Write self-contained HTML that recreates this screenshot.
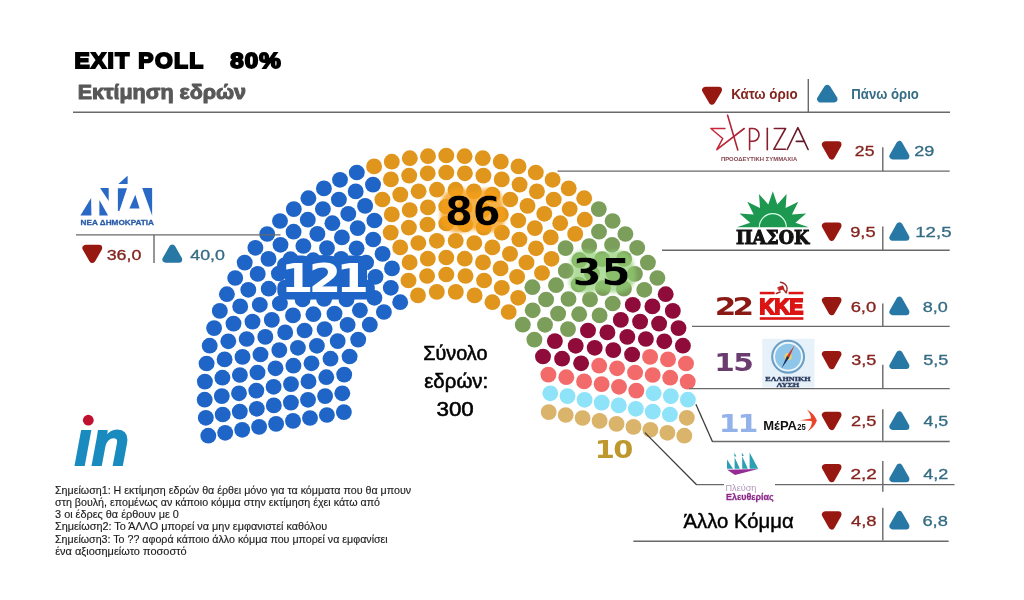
<!DOCTYPE html>
<html lang="el"><head><meta charset="utf-8"><title>Exit poll</title>
<style>html,body{margin:0;padding:0;background:#fff}svg{display:block}</style></head>
<body>
<svg width="1024" height="600" viewBox="0 0 1024 600">
<rect width="1024" height="600" fill="#fff"/>
<g fill="#1f65c8"><ellipse cx="208.3" cy="435.7" rx="7.95" ry="7.85"/><ellipse cx="225.2" cy="432.8" rx="7.95" ry="7.85"/><ellipse cx="242.2" cy="429.8" rx="7.95" ry="7.85"/><ellipse cx="259.1" cy="426.9" rx="7.95" ry="7.85"/><ellipse cx="276.1" cy="423.9" rx="7.95" ry="7.85"/><ellipse cx="293.0" cy="420.9" rx="7.95" ry="7.85"/><ellipse cx="310.0" cy="418.0" rx="7.95" ry="7.85"/><ellipse cx="326.9" cy="415.0" rx="7.95" ry="7.85"/><ellipse cx="343.9" cy="412.1" rx="7.95" ry="7.85"/><ellipse cx="205.8" cy="417.8" rx="7.95" ry="7.85"/><ellipse cx="222.7" cy="414.5" rx="7.95" ry="7.85"/><ellipse cx="239.8" cy="411.6" rx="7.95" ry="7.85"/><ellipse cx="256.8" cy="408.8" rx="7.95" ry="7.85"/><ellipse cx="273.8" cy="405.4" rx="7.95" ry="7.85"/><ellipse cx="290.9" cy="402.6" rx="7.95" ry="7.85"/><ellipse cx="308.0" cy="399.8" rx="7.95" ry="7.85"/><ellipse cx="204.7" cy="399.7" rx="7.95" ry="7.85"/><ellipse cx="325.1" cy="396.1" rx="7.95" ry="7.85"/><ellipse cx="221.8" cy="396.1" rx="7.95" ry="7.85"/><ellipse cx="239.0" cy="393.3" rx="7.95" ry="7.85"/><ellipse cx="342.3" cy="393.3" rx="7.95" ry="7.85"/><ellipse cx="256.3" cy="390.6" rx="7.95" ry="7.85"/><ellipse cx="273.6" cy="386.8" rx="7.95" ry="7.85"/><ellipse cx="204.9" cy="381.6" rx="7.95" ry="7.85"/><ellipse cx="291.0" cy="384.1" rx="7.95" ry="7.85"/><ellipse cx="222.4" cy="377.7" rx="7.95" ry="7.85"/><ellipse cx="239.9" cy="375.0" rx="7.95" ry="7.85"/><ellipse cx="308.5" cy="381.4" rx="7.95" ry="7.85"/><ellipse cx="257.5" cy="372.5" rx="7.95" ry="7.85"/><ellipse cx="206.6" cy="363.5" rx="7.95" ry="7.85"/><ellipse cx="326.3" cy="377.2" rx="7.95" ry="7.85"/><ellipse cx="275.5" cy="368.3" rx="7.95" ry="7.85"/><ellipse cx="224.6" cy="359.4" rx="7.95" ry="7.85"/><ellipse cx="242.5" cy="356.9" rx="7.95" ry="7.85"/><ellipse cx="293.4" cy="365.7" rx="7.95" ry="7.85"/><ellipse cx="344.2" cy="374.6" rx="7.95" ry="7.85"/><ellipse cx="209.7" cy="345.7" rx="7.95" ry="7.85"/><ellipse cx="260.5" cy="354.5" rx="7.95" ry="7.85"/><ellipse cx="311.5" cy="363.3" rx="7.95" ry="7.85"/><ellipse cx="228.3" cy="341.3" rx="7.95" ry="7.85"/><ellipse cx="279.3" cy="350.1" rx="7.95" ry="7.85"/><ellipse cx="246.7" cy="339.0" rx="7.95" ry="7.85"/><ellipse cx="214.1" cy="328.1" rx="7.95" ry="7.85"/><ellipse cx="330.5" cy="358.7" rx="7.95" ry="7.85"/><ellipse cx="297.9" cy="347.8" rx="7.95" ry="7.85"/><ellipse cx="265.3" cy="336.9" rx="7.95" ry="7.85"/><ellipse cx="233.5" cy="323.6" rx="7.95" ry="7.85"/><ellipse cx="219.8" cy="310.9" rx="7.95" ry="7.85"/><ellipse cx="252.5" cy="321.6" rx="7.95" ry="7.85"/><ellipse cx="316.9" cy="345.8" rx="7.95" ry="7.85"/><ellipse cx="285.2" cy="332.4" rx="7.95" ry="7.85"/><ellipse cx="349.6" cy="356.5" rx="7.95" ry="7.85"/><ellipse cx="240.2" cy="306.4" rx="7.95" ry="7.85"/><ellipse cx="271.8" cy="319.9" rx="7.95" ry="7.85"/><ellipse cx="304.6" cy="330.5" rx="7.95" ry="7.85"/><ellipse cx="226.9" cy="294.2" rx="7.95" ry="7.85"/><ellipse cx="259.8" cy="304.8" rx="7.95" ry="7.85"/><ellipse cx="337.7" cy="341.1" rx="7.95" ry="7.85"/><ellipse cx="293.0" cy="315.4" rx="7.95" ry="7.85"/><ellipse cx="248.3" cy="289.8" rx="7.95" ry="7.85"/><ellipse cx="324.6" cy="329.1" rx="7.95" ry="7.85"/><ellipse cx="279.9" cy="303.5" rx="7.95" ry="7.85"/><ellipse cx="235.2" cy="278.0" rx="7.95" ry="7.85"/><ellipse cx="268.7" cy="288.7" rx="7.95" ry="7.85"/><ellipse cx="313.4" cy="314.2" rx="7.95" ry="7.85"/><ellipse cx="358.2" cy="339.6" rx="7.95" ry="7.85"/><ellipse cx="257.7" cy="273.9" rx="7.95" ry="7.85"/><ellipse cx="244.7" cy="262.6" rx="7.95" ry="7.85"/><ellipse cx="302.6" cy="299.4" rx="7.95" ry="7.85"/><ellipse cx="289.6" cy="288.1" rx="7.95" ry="7.85"/><ellipse cx="347.6" cy="324.8" rx="7.95" ry="7.85"/><ellipse cx="278.9" cy="273.5" rx="7.95" ry="7.85"/><ellipse cx="334.5" cy="313.6" rx="7.95" ry="7.85"/><ellipse cx="268.5" cy="258.9" rx="7.95" ry="7.85"/><ellipse cx="255.4" cy="247.8" rx="7.95" ry="7.85"/><ellipse cx="324.1" cy="299.0" rx="7.95" ry="7.85"/><ellipse cx="300.7" cy="273.6" rx="7.95" ry="7.85"/><ellipse cx="313.9" cy="284.5" rx="7.95" ry="7.85"/><ellipse cx="290.5" cy="259.2" rx="7.95" ry="7.85"/><ellipse cx="267.2" cy="234.0" rx="7.95" ry="7.85"/><ellipse cx="280.5" cy="244.8" rx="7.95" ry="7.85"/><ellipse cx="369.8" cy="324.7" rx="7.95" ry="7.85"/><ellipse cx="346.5" cy="299.5" rx="7.95" ry="7.85"/><ellipse cx="359.9" cy="310.3" rx="7.95" ry="7.85"/><ellipse cx="336.6" cy="285.2" rx="7.95" ry="7.85"/><ellipse cx="313.2" cy="260.2" rx="7.95" ry="7.85"/><ellipse cx="326.8" cy="270.9" rx="7.95" ry="7.85"/><ellipse cx="303.4" cy="246.0" rx="7.95" ry="7.85"/><ellipse cx="280.0" cy="221.0" rx="7.95" ry="7.85"/><ellipse cx="293.6" cy="231.7" rx="7.95" ry="7.85"/><ellipse cx="293.8" cy="209.1" rx="7.95" ry="7.85"/><ellipse cx="327.0" cy="248.1" rx="7.95" ry="7.85"/><ellipse cx="317.4" cy="233.9" rx="7.95" ry="7.85"/><ellipse cx="360.2" cy="287.2" rx="7.95" ry="7.85"/><ellipse cx="307.8" cy="219.7" rx="7.95" ry="7.85"/><ellipse cx="350.6" cy="273.0" rx="7.95" ry="7.85"/><ellipse cx="341.1" cy="258.8" rx="7.95" ry="7.85"/><ellipse cx="383.9" cy="312.0" rx="7.95" ry="7.85"/><ellipse cx="374.4" cy="297.8" rx="7.95" ry="7.85"/><ellipse cx="308.4" cy="198.2" rx="7.95" ry="7.85"/><ellipse cx="322.9" cy="209.0" rx="7.95" ry="7.85"/><ellipse cx="332.4" cy="223.2" rx="7.95" ry="7.85"/><ellipse cx="341.9" cy="237.4" rx="7.95" ry="7.85"/><ellipse cx="356.6" cy="248.3" rx="7.95" ry="7.85"/><ellipse cx="366.1" cy="262.5" rx="7.95" ry="7.85"/><ellipse cx="375.5" cy="276.8" rx="7.95" ry="7.85"/><ellipse cx="323.9" cy="188.4" rx="7.95" ry="7.85"/><ellipse cx="338.9" cy="199.5" rx="7.95" ry="7.85"/><ellipse cx="348.3" cy="213.8" rx="7.95" ry="7.85"/><ellipse cx="357.7" cy="228.1" rx="7.95" ry="7.85"/><ellipse cx="390.8" cy="287.8" rx="7.95" ry="7.85"/><ellipse cx="400.2" cy="302.2" rx="7.95" ry="7.85"/><ellipse cx="340.0" cy="179.8" rx="7.95" ry="7.85"/><ellipse cx="373.2" cy="239.5" rx="7.95" ry="7.85"/><ellipse cx="382.6" cy="253.9" rx="7.95" ry="7.85"/><ellipse cx="355.7" cy="191.4" rx="7.95" ry="7.85"/><ellipse cx="365.1" cy="205.9" rx="7.95" ry="7.85"/><ellipse cx="392.0" cy="268.4" rx="7.95" ry="7.85"/><ellipse cx="374.4" cy="220.5" rx="7.95" ry="7.85"/><ellipse cx="356.8" cy="172.5" rx="7.95" ry="7.85"/><ellipse cx="373.0" cy="184.6" rx="7.95" ry="7.85"/></g>
<g fill="#e0951c"><ellipse cx="390.7" cy="232.6" rx="7.95" ry="7.85"/><ellipse cx="408.5" cy="280.5" rx="7.95" ry="7.85"/><ellipse cx="382.4" cy="199.5" rx="7.95" ry="7.85"/><ellipse cx="374.1" cy="166.4" rx="7.95" ry="7.85"/><ellipse cx="400.2" cy="247.4" rx="7.95" ry="7.85"/><ellipse cx="391.8" cy="214.4" rx="7.95" ry="7.85"/><ellipse cx="418.0" cy="295.4" rx="7.95" ry="7.85"/><ellipse cx="409.6" cy="262.4" rx="7.95" ry="7.85"/><ellipse cx="390.9" cy="179.4" rx="7.95" ry="7.85"/><ellipse cx="391.8" cy="161.7" rx="7.95" ry="7.85"/><ellipse cx="400.3" cy="194.6" rx="7.95" ry="7.85"/><ellipse cx="408.9" cy="227.6" rx="7.95" ry="7.85"/><ellipse cx="409.7" cy="210.0" rx="7.95" ry="7.85"/><ellipse cx="418.3" cy="243.0" rx="7.95" ry="7.85"/><ellipse cx="409.2" cy="175.6" rx="7.95" ry="7.85"/><ellipse cx="427.1" cy="276.0" rx="7.95" ry="7.85"/><ellipse cx="409.8" cy="158.2" rx="7.95" ry="7.85"/><ellipse cx="418.6" cy="191.3" rx="7.95" ry="7.85"/><ellipse cx="427.8" cy="258.7" rx="7.95" ry="7.85"/><ellipse cx="427.5" cy="224.5" rx="7.95" ry="7.85"/><ellipse cx="427.9" cy="207.4" rx="7.95" ry="7.85"/><ellipse cx="436.8" cy="291.9" rx="7.95" ry="7.85"/><ellipse cx="427.7" cy="173.3" rx="7.95" ry="7.85"/><ellipse cx="428.0" cy="156.2" rx="7.95" ry="7.85"/><ellipse cx="436.9" cy="240.8" rx="7.95" ry="7.85"/><ellipse cx="437.0" cy="189.7" rx="7.95" ry="7.85"/><ellipse cx="446.3" cy="155.5" rx="7.95" ry="7.85"/><ellipse cx="446.3" cy="172.5" rx="7.95" ry="7.85"/><ellipse cx="446.3" cy="206.5" rx="7.95" ry="7.85"/><ellipse cx="446.3" cy="223.5" rx="7.95" ry="7.85"/><ellipse cx="446.3" cy="257.5" rx="7.95" ry="7.85"/><ellipse cx="446.3" cy="274.5" rx="7.95" ry="7.85"/><ellipse cx="455.6" cy="189.7" rx="7.95" ry="7.85"/><ellipse cx="455.7" cy="240.8" rx="7.95" ry="7.85"/><ellipse cx="464.6" cy="156.2" rx="7.95" ry="7.85"/><ellipse cx="464.9" cy="173.3" rx="7.95" ry="7.85"/><ellipse cx="455.8" cy="291.9" rx="7.95" ry="7.85"/><ellipse cx="464.7" cy="207.4" rx="7.95" ry="7.85"/><ellipse cx="465.1" cy="224.5" rx="7.95" ry="7.85"/><ellipse cx="474.0" cy="191.3" rx="7.95" ry="7.85"/><ellipse cx="464.8" cy="258.7" rx="7.95" ry="7.85"/><ellipse cx="482.8" cy="158.2" rx="7.95" ry="7.85"/><ellipse cx="465.5" cy="276.0" rx="7.95" ry="7.85"/><ellipse cx="483.4" cy="175.6" rx="7.95" ry="7.85"/><ellipse cx="474.3" cy="243.0" rx="7.95" ry="7.85"/><ellipse cx="482.9" cy="210.0" rx="7.95" ry="7.85"/><ellipse cx="483.7" cy="227.6" rx="7.95" ry="7.85"/><ellipse cx="492.3" cy="194.6" rx="7.95" ry="7.85"/><ellipse cx="500.8" cy="161.7" rx="7.95" ry="7.85"/><ellipse cx="501.7" cy="179.4" rx="7.95" ry="7.85"/><ellipse cx="483.0" cy="262.4" rx="7.95" ry="7.85"/><ellipse cx="474.6" cy="295.4" rx="7.95" ry="7.85"/><ellipse cx="500.8" cy="214.4" rx="7.95" ry="7.85"/><ellipse cx="492.4" cy="247.4" rx="7.95" ry="7.85"/><ellipse cx="518.5" cy="166.4" rx="7.95" ry="7.85"/><ellipse cx="510.2" cy="199.5" rx="7.95" ry="7.85"/><ellipse cx="484.1" cy="280.5" rx="7.95" ry="7.85"/><ellipse cx="501.9" cy="232.6" rx="7.95" ry="7.85"/><ellipse cx="519.6" cy="184.6" rx="7.95" ry="7.85"/><ellipse cx="535.8" cy="172.5" rx="7.95" ry="7.85"/><ellipse cx="518.2" cy="220.5" rx="7.95" ry="7.85"/><ellipse cx="527.5" cy="205.9" rx="7.95" ry="7.85"/><ellipse cx="500.6" cy="268.4" rx="7.95" ry="7.85"/><ellipse cx="536.9" cy="191.4" rx="7.95" ry="7.85"/><ellipse cx="510.0" cy="253.9" rx="7.95" ry="7.85"/><ellipse cx="519.4" cy="239.5" rx="7.95" ry="7.85"/><ellipse cx="552.6" cy="179.8" rx="7.95" ry="7.85"/><ellipse cx="492.4" cy="302.2" rx="7.95" ry="7.85"/><ellipse cx="501.8" cy="287.8" rx="7.95" ry="7.85"/><ellipse cx="534.9" cy="228.1" rx="7.95" ry="7.85"/><ellipse cx="544.3" cy="213.8" rx="7.95" ry="7.85"/><ellipse cx="553.7" cy="199.5" rx="7.95" ry="7.85"/><ellipse cx="568.7" cy="188.4" rx="7.95" ry="7.85"/><ellipse cx="517.1" cy="276.8" rx="7.95" ry="7.85"/><ellipse cx="526.5" cy="262.5" rx="7.95" ry="7.85"/><ellipse cx="536.0" cy="248.3" rx="7.95" ry="7.85"/><ellipse cx="569.7" cy="209.0" rx="7.95" ry="7.85"/><ellipse cx="560.2" cy="223.2" rx="7.95" ry="7.85"/><ellipse cx="550.7" cy="237.4" rx="7.95" ry="7.85"/><ellipse cx="584.2" cy="198.2" rx="7.95" ry="7.85"/><ellipse cx="518.2" cy="297.8" rx="7.95" ry="7.85"/><ellipse cx="508.7" cy="312.0" rx="7.95" ry="7.85"/><ellipse cx="551.5" cy="258.8" rx="7.95" ry="7.85"/><ellipse cx="542.0" cy="273.0" rx="7.95" ry="7.85"/><ellipse cx="584.8" cy="219.7" rx="7.95" ry="7.85"/><ellipse cx="575.2" cy="233.9" rx="7.95" ry="7.85"/></g>
<g fill="#7b9e5a"><ellipse cx="532.4" cy="287.2" rx="7.95" ry="7.85"/><ellipse cx="565.6" cy="248.1" rx="7.95" ry="7.85"/><ellipse cx="598.8" cy="209.1" rx="7.95" ry="7.85"/><ellipse cx="599.0" cy="231.7" rx="7.95" ry="7.85"/><ellipse cx="612.6" cy="221.0" rx="7.95" ry="7.85"/><ellipse cx="589.2" cy="246.0" rx="7.95" ry="7.85"/><ellipse cx="565.8" cy="270.9" rx="7.95" ry="7.85"/><ellipse cx="579.4" cy="260.2" rx="7.95" ry="7.85"/><ellipse cx="556.0" cy="285.2" rx="7.95" ry="7.85"/><ellipse cx="532.7" cy="310.3" rx="7.95" ry="7.85"/><ellipse cx="546.1" cy="299.5" rx="7.95" ry="7.85"/><ellipse cx="522.8" cy="324.7" rx="7.95" ry="7.85"/><ellipse cx="612.1" cy="244.8" rx="7.95" ry="7.85"/><ellipse cx="625.4" cy="234.0" rx="7.95" ry="7.85"/><ellipse cx="602.1" cy="259.2" rx="7.95" ry="7.85"/><ellipse cx="591.9" cy="273.6" rx="7.95" ry="7.85"/><ellipse cx="578.7" cy="284.5" rx="7.95" ry="7.85"/><ellipse cx="568.5" cy="299.0" rx="7.95" ry="7.85"/><ellipse cx="637.2" cy="247.8" rx="7.95" ry="7.85"/><ellipse cx="624.1" cy="258.9" rx="7.95" ry="7.85"/><ellipse cx="613.7" cy="273.5" rx="7.95" ry="7.85"/><ellipse cx="558.1" cy="313.6" rx="7.95" ry="7.85"/><ellipse cx="545.0" cy="324.8" rx="7.95" ry="7.85"/><ellipse cx="603.0" cy="288.1" rx="7.95" ry="7.85"/><ellipse cx="590.0" cy="299.4" rx="7.95" ry="7.85"/><ellipse cx="647.9" cy="262.6" rx="7.95" ry="7.85"/><ellipse cx="634.9" cy="273.9" rx="7.95" ry="7.85"/><ellipse cx="534.4" cy="339.6" rx="7.95" ry="7.85"/><ellipse cx="579.2" cy="314.2" rx="7.95" ry="7.85"/><ellipse cx="623.9" cy="288.7" rx="7.95" ry="7.85"/><ellipse cx="657.4" cy="278.0" rx="7.95" ry="7.85"/><ellipse cx="612.7" cy="303.5" rx="7.95" ry="7.85"/><ellipse cx="568.0" cy="329.1" rx="7.95" ry="7.85"/><ellipse cx="644.3" cy="289.8" rx="7.95" ry="7.85"/><ellipse cx="599.6" cy="315.4" rx="7.95" ry="7.85"/></g>
<g fill="#8e0b3a"><ellipse cx="554.9" cy="341.1" rx="7.95" ry="7.85"/><ellipse cx="632.8" cy="304.8" rx="7.95" ry="7.85"/><ellipse cx="665.7" cy="294.2" rx="7.95" ry="7.85"/><ellipse cx="588.0" cy="330.5" rx="7.95" ry="7.85"/><ellipse cx="652.4" cy="306.4" rx="7.95" ry="7.85"/><ellipse cx="620.8" cy="319.9" rx="7.95" ry="7.85"/><ellipse cx="543.0" cy="356.5" rx="7.95" ry="7.85"/><ellipse cx="607.4" cy="332.4" rx="7.95" ry="7.85"/><ellipse cx="640.1" cy="321.6" rx="7.95" ry="7.85"/><ellipse cx="575.7" cy="345.8" rx="7.95" ry="7.85"/><ellipse cx="672.8" cy="310.9" rx="7.95" ry="7.85"/><ellipse cx="659.1" cy="323.6" rx="7.95" ry="7.85"/><ellipse cx="627.3" cy="336.9" rx="7.95" ry="7.85"/><ellipse cx="594.7" cy="347.8" rx="7.95" ry="7.85"/><ellipse cx="562.1" cy="358.7" rx="7.95" ry="7.85"/><ellipse cx="678.5" cy="328.1" rx="7.95" ry="7.85"/><ellipse cx="645.9" cy="339.0" rx="7.95" ry="7.85"/><ellipse cx="613.3" cy="350.1" rx="7.95" ry="7.85"/><ellipse cx="664.3" cy="341.3" rx="7.95" ry="7.85"/><ellipse cx="581.1" cy="363.3" rx="7.95" ry="7.85"/><ellipse cx="632.1" cy="354.5" rx="7.95" ry="7.85"/><ellipse cx="682.9" cy="345.7" rx="7.95" ry="7.85"/></g>
<g fill="#f26a6a"><ellipse cx="548.4" cy="374.6" rx="7.95" ry="7.85"/><ellipse cx="599.2" cy="365.7" rx="7.95" ry="7.85"/><ellipse cx="650.1" cy="356.9" rx="7.95" ry="7.85"/><ellipse cx="668.0" cy="359.4" rx="7.95" ry="7.85"/><ellipse cx="617.1" cy="368.3" rx="7.95" ry="7.85"/><ellipse cx="566.3" cy="377.2" rx="7.95" ry="7.85"/><ellipse cx="686.0" cy="363.5" rx="7.95" ry="7.85"/><ellipse cx="635.1" cy="372.5" rx="7.95" ry="7.85"/><ellipse cx="652.7" cy="375.0" rx="7.95" ry="7.85"/><ellipse cx="584.1" cy="381.4" rx="7.95" ry="7.85"/><ellipse cx="670.2" cy="377.7" rx="7.95" ry="7.85"/><ellipse cx="601.6" cy="384.1" rx="7.95" ry="7.85"/><ellipse cx="687.7" cy="381.6" rx="7.95" ry="7.85"/><ellipse cx="619.0" cy="386.8" rx="7.95" ry="7.85"/><ellipse cx="636.3" cy="390.6" rx="7.95" ry="7.85"/></g>
<g fill="#8ee3f9"><ellipse cx="550.3" cy="393.3" rx="7.95" ry="7.85"/><ellipse cx="653.6" cy="393.3" rx="7.95" ry="7.85"/><ellipse cx="670.8" cy="396.1" rx="7.95" ry="7.85"/><ellipse cx="567.5" cy="396.1" rx="7.95" ry="7.85"/><ellipse cx="687.9" cy="399.7" rx="7.95" ry="7.85"/><ellipse cx="584.6" cy="399.8" rx="7.95" ry="7.85"/><ellipse cx="601.7" cy="402.6" rx="7.95" ry="7.85"/><ellipse cx="618.8" cy="405.4" rx="7.95" ry="7.85"/><ellipse cx="635.8" cy="408.8" rx="7.95" ry="7.85"/><ellipse cx="652.8" cy="411.6" rx="7.95" ry="7.85"/><ellipse cx="669.9" cy="414.5" rx="7.95" ry="7.85"/></g>
<g fill="#dbb46c"><ellipse cx="686.8" cy="417.8" rx="7.95" ry="7.85"/><ellipse cx="684.3" cy="435.7" rx="7.95" ry="7.85"/><ellipse cx="667.4" cy="432.8" rx="7.95" ry="7.85"/><ellipse cx="650.4" cy="429.8" rx="7.95" ry="7.85"/><ellipse cx="633.5" cy="426.9" rx="7.95" ry="7.85"/><ellipse cx="616.5" cy="423.9" rx="7.95" ry="7.85"/><ellipse cx="599.6" cy="420.9" rx="7.95" ry="7.85"/><ellipse cx="582.6" cy="418.0" rx="7.95" ry="7.85"/><ellipse cx="565.7" cy="415.0" rx="7.95" ry="7.85"/><ellipse cx="548.7" cy="412.1" rx="7.95" ry="7.85"/></g>
<text transform="translate(74.45,68.00) scale(1.0635,1)" font-family="'Liberation Sans',sans-serif" font-size="21.45" font-weight="bold" font-style="normal" fill="#000" stroke="#000" stroke-width="1.8" stroke-linejoin="miter" letter-spacing="1.29">EXIT POLL</text>
<text transform="translate(230.13,67.94) scale(1.1229,1)" font-family="'Liberation Sans',sans-serif" font-size="21.48" font-weight="bold" font-style="normal" fill="#000" stroke="#000" stroke-width="1.8" stroke-linejoin="miter" letter-spacing="1.07">80%</text>
<text transform="translate(77.65,98.65) scale(1.0969,1)" font-family="'Liberation Sans',sans-serif" font-size="19.57" font-weight="bold" font-style="normal" fill="#585858" stroke="#585858" stroke-width="1.0" stroke-linejoin="round">Εκτίμηση εδρών</text>
<line x1="73.0" y1="112.3" x2="950.0" y2="112.3" stroke="#696969" stroke-width="1.4"/>
<polygon points="705.4,90.1 718.7,90.1 712.0,101.4" fill="#961810" stroke="#961810" stroke-width="6.6" stroke-linejoin="round"/>
<text transform="translate(731.16,98.50) scale(0.9635,1)" font-family="'Liberation Sans',sans-serif" font-size="13.91" font-weight="bold" font-style="normal" fill="#84241e" >Κάτω όριο</text>
<line x1="808.3" y1="78.9" x2="808.3" y2="112.3" stroke="#696969" stroke-width="1.4"/>
<polygon points="820.4,99.1 834.2,99.1 827.3,88.1" fill="#2878a6" stroke="#2878a6" stroke-width="6.6" stroke-linejoin="round"/>
<text transform="translate(851.33,98.50) scale(0.9464,1)" font-family="'Liberation Sans',sans-serif" font-size="13.91" font-weight="bold" font-style="normal" fill="#356c84" >Πάνω όριο</text>
<polygon points="825.2,144.6 838.2,144.6 831.7,156.2" fill="#961810" stroke="#961810" stroke-width="6.6" stroke-linejoin="round"/>
<text transform="translate(854.87,155.81) scale(1.2276,1)" font-family="'Liberation Sans',sans-serif" font-size="14.30" font-weight="normal" font-style="normal" fill="#84241e" stroke="#84241e" stroke-width="0.3">25</text>
<line x1="882.8" y1="147.3" x2="882.8" y2="171.2" stroke="#696969" stroke-width="1.4"/>
<polygon points="892.7,156.2 906.1,156.2 899.4,144.3" fill="#2878a6" stroke="#2878a6" stroke-width="6.6" stroke-linejoin="round"/>
<text transform="translate(914.25,155.81) scale(1.2605,1)" font-family="'Liberation Sans',sans-serif" font-size="14.30" font-weight="normal" font-style="normal" fill="#356c84" stroke="#356c84" stroke-width="0.3">29</text>
<line x1="557.5" y1="171.1" x2="949.7" y2="171.1" stroke="#696969" stroke-width="1.4"/>
<polygon points="825.2,225.9 838.2,225.9 831.7,237.5" fill="#961810" stroke="#961810" stroke-width="6.6" stroke-linejoin="round"/>
<text transform="translate(850.24,237.11) scale(1.2753,1)" font-family="'Liberation Sans',sans-serif" font-size="14.30" font-weight="normal" font-style="normal" fill="#84241e" stroke="#84241e" stroke-width="0.3">9,5</text>
<line x1="882.8" y1="226.6" x2="882.8" y2="250.3" stroke="#696969" stroke-width="1.4"/>
<polygon points="892.7,237.5 906.1,237.5 899.4,225.6" fill="#2878a6" stroke="#2878a6" stroke-width="6.6" stroke-linejoin="round"/>
<text transform="translate(915.26,237.11) scale(1.3029,1)" font-family="'Liberation Sans',sans-serif" font-size="14.30" font-weight="normal" font-style="normal" fill="#356c84" stroke="#356c84" stroke-width="0.3">12,5</text>
<line x1="662.0" y1="250.2" x2="949.7" y2="250.2" stroke="#696969" stroke-width="1.4"/>
<polygon points="825.2,300.3 838.2,300.3 831.7,311.9" fill="#961810" stroke="#961810" stroke-width="6.6" stroke-linejoin="round"/>
<text transform="translate(850.63,311.51) scale(1.2860,1)" font-family="'Liberation Sans',sans-serif" font-size="14.30" font-weight="normal" font-style="normal" fill="#84241e" stroke="#84241e" stroke-width="0.3">6,0</text>
<line x1="882.8" y1="303.4" x2="882.8" y2="326.2" stroke="#696969" stroke-width="1.4"/>
<polygon points="892.7,311.9 906.1,311.9 899.4,300.0" fill="#2878a6" stroke="#2878a6" stroke-width="6.6" stroke-linejoin="round"/>
<text transform="translate(922.63,311.51) scale(1.2602,1)" font-family="'Liberation Sans',sans-serif" font-size="14.30" font-weight="normal" font-style="normal" fill="#356c84" stroke="#356c84" stroke-width="0.3">8,0</text>
<line x1="692.0" y1="326.4" x2="949.7" y2="326.4" stroke="#696969" stroke-width="1.4"/>
<polygon points="825.2,354.2 838.2,354.2 831.7,365.8" fill="#961810" stroke="#961810" stroke-width="6.6" stroke-linejoin="round"/>
<text transform="translate(851.23,365.41) scale(1.2655,1)" font-family="'Liberation Sans',sans-serif" font-size="14.30" font-weight="normal" font-style="normal" fill="#84241e" stroke="#84241e" stroke-width="0.3">3,5</text>
<line x1="882.8" y1="364.7" x2="882.8" y2="388.6" stroke="#696969" stroke-width="1.4"/>
<polygon points="892.7,365.8 906.1,365.8 899.4,353.9" fill="#2878a6" stroke="#2878a6" stroke-width="6.6" stroke-linejoin="round"/>
<text transform="translate(923.13,365.41) scale(1.2655,1)" font-family="'Liberation Sans',sans-serif" font-size="14.30" font-weight="normal" font-style="normal" fill="#356c84" stroke="#356c84" stroke-width="0.3">5,5</text>
<line x1="689.0" y1="388.6" x2="949.7" y2="388.6" stroke="#696969" stroke-width="1.4"/>
<polygon points="825.2,415.1 838.2,415.1 831.7,426.7" fill="#961810" stroke="#961810" stroke-width="6.6" stroke-linejoin="round"/>
<text transform="translate(851.04,426.31) scale(1.2753,1)" font-family="'Liberation Sans',sans-serif" font-size="14.30" font-weight="normal" font-style="normal" fill="#84241e" stroke="#84241e" stroke-width="0.3">2,5</text>
<line x1="882.8" y1="409.3" x2="882.8" y2="440.8" stroke="#696969" stroke-width="1.4"/>
<polygon points="892.7,426.7 906.1,426.7 899.4,414.8" fill="#2878a6" stroke="#2878a6" stroke-width="6.6" stroke-linejoin="round"/>
<text transform="translate(923.49,426.31) scale(1.2465,1)" font-family="'Liberation Sans',sans-serif" font-size="14.30" font-weight="normal" font-style="normal" fill="#356c84" stroke="#356c84" stroke-width="0.3">4,5</text>
<line x1="712.3" y1="441.5" x2="949.7" y2="441.5" stroke="#696969" stroke-width="1.4"/>
<line x1="695.9" y1="404.2" x2="712.5" y2="441.7" stroke="#3c3c3c" stroke-width="1.3"/>
<polygon points="825.2,467.3 838.2,467.3 831.7,478.9" fill="#961810" stroke="#961810" stroke-width="6.6" stroke-linejoin="round"/>
<text transform="translate(850.40,478.51) scale(1.3285,1)" font-family="'Liberation Sans',sans-serif" font-size="14.30" font-weight="normal" font-style="normal" fill="#84241e" stroke="#84241e" stroke-width="0.3">2,2</text>
<line x1="882.8" y1="461.0" x2="882.8" y2="491.8" stroke="#696969" stroke-width="1.4"/>
<polygon points="892.7,478.9 906.1,478.9 899.4,467.0" fill="#2878a6" stroke="#2878a6" stroke-width="6.6" stroke-linejoin="round"/>
<text transform="translate(923.29,478.51) scale(1.2612,1)" font-family="'Liberation Sans',sans-serif" font-size="14.30" font-weight="normal" font-style="normal" fill="#356c84" stroke="#356c84" stroke-width="0.3">4,2</text>
<line x1="696.4" y1="484.6" x2="954.5" y2="484.6" stroke="#696969" stroke-width="1.4"/>
<line x1="644.9" y1="432.6" x2="696.6" y2="484.8" stroke="#3c3c3c" stroke-width="1.3"/>
<polygon points="825.2,514.6 838.2,514.6 831.7,526.2" fill="#961810" stroke="#961810" stroke-width="6.6" stroke-linejoin="round"/>
<text transform="translate(850.98,525.81) scale(1.2886,1)" font-family="'Liberation Sans',sans-serif" font-size="14.30" font-weight="normal" font-style="normal" fill="#84241e" stroke="#84241e" stroke-width="0.3">4,8</text>
<line x1="882.8" y1="507.8" x2="882.8" y2="540.5" stroke="#696969" stroke-width="1.4"/>
<polygon points="892.7,526.2 906.1,526.2 899.4,514.3" fill="#2878a6" stroke="#2878a6" stroke-width="6.6" stroke-linejoin="round"/>
<text transform="translate(922.44,525.81) scale(1.2753,1)" font-family="'Liberation Sans',sans-serif" font-size="14.30" font-weight="normal" font-style="normal" fill="#356c84" stroke="#356c84" stroke-width="0.3">6,8</text>
<line x1="633.3" y1="541.3" x2="948.7" y2="541.3" stroke="#696969" stroke-width="1.4"/>
<text transform="translate(683.45,528.15) scale(0.9906,1)" font-family="'Liberation Sans',sans-serif" font-size="20.51" font-weight="normal" font-style="normal" fill="#000" stroke="#000" stroke-width="0.45">Άλλο Κόμμα</text>
<line x1="76.0" y1="234.9" x2="280.5" y2="234.9" stroke="#696969" stroke-width="1.4"/>
<line x1="154.0" y1="234.9" x2="154.0" y2="263.0" stroke="#696969" stroke-width="1.4"/>
<polygon points="85.7,248.1 98.9,248.1 92.3,259.6" fill="#961810" stroke="#961810" stroke-width="6.6" stroke-linejoin="round"/>
<text transform="translate(106.64,259.81) scale(1.2745,1)" font-family="'Liberation Sans',sans-serif" font-size="14.01" font-weight="normal" font-style="normal" fill="#84241e" stroke="#84241e" stroke-width="0.3">36,0</text>
<polygon points="165.7,259.5 178.9,259.5 172.3,247.9" fill="#2878a6" stroke="#2878a6" stroke-width="6.6" stroke-linejoin="round"/>
<text transform="translate(190.29,259.81) scale(1.2723,1)" font-family="'Liberation Sans',sans-serif" font-size="14.01" font-weight="normal" font-style="normal" fill="#356c84" stroke="#356c84" stroke-width="0.3">40,0</text>
<g fill="#2a68c6">
<polygon points="80.4,215.5 91.1,198.1 91.4,215.5"/>
<polygon points="100.1,188 108.7,188 108.7,201.1"/>
<polygon points="99.4,200 99.4,215.5 108.1,215.5"/>
<polygon points="117.9,188.3 127,188.3 119.3,211.2 117.9,210.7"/>
<polygon points="118.3,184 127.6,175.7 127.6,184"/>
<polygon points="129.4,208.5 135.3,194.7 139.6,208.5"/>
<polygon points="142.2,188 152.1,188 152.1,215.5"/>
</g>
<text transform="translate(80.53,225.30) scale(1.0473,1)" font-family="'Liberation Sans',sans-serif" font-size="7.83" font-weight="bold" font-style="normal" fill="#2a5ca8" stroke="#2a5ca8" stroke-width="0.3">ΝΕΑ ΔΗΜΟΚΡΑΤΙΑ</text>
<defs><linearGradient id="syg" gradientUnits="userSpaceOnUse" x1="710" y1="0" x2="809" y2="0"><stop offset="0" stop-color="#d02a3c"/><stop offset="0.5" stop-color="#8e2030"/><stop offset="1" stop-color="#5e1826"/></linearGradient></defs>
<g fill="none" stroke="url(#syg)" stroke-width="1.6" stroke-linecap="round" stroke-linejoin="round">
<polyline points="724.9,128.5 710.9,128.5 722.7,138.5 716.8,149.7 744.2,128.5"/>
<polyline points="727.6,115.2 737.8,150.0"/>
<path d="M749.6,149.7 V128.5 H753.0 A6.0,6.3 0 0 1 753.0,141.2 H749.6"/>
<polyline points="767.3,128.3 767.3,149.7"/>
<polyline points="774.3,128.5 785.6,128.5 773.8,149.3 785.4,149.3"/>
<polyline points="787.2,149.5 797.9,127.7 808.1,149.5"/>
<polyline points="796.3,141.4 804.4,141.4"/>
</g>
<text transform="translate(720.88,160.70) scale(1.1058,1)" font-family="'Liberation Sans',sans-serif" font-size="5.36" font-weight="bold" font-style="normal" fill="#84464e" >ΠΡΟΟΔΕΥΤΙΚΗ ΣΥΜΜΑΧΙΑ</text>
<polygon points="736.8,227.2 750.2,222.7 739.5,213.4 753.7,214.4 747.3,201.7 760.0,208.1 759.0,193.9 768.3,204.6 772.8,191.2 777.3,204.6 786.6,193.9 785.6,208.1 798.3,201.7 791.9,214.4 806.1,213.4 795.4,222.7 808.8,227.2" fill="#1c9850"/>
<path d="M759.3,227.2 A13.5,13.5 0 0 1 786.3,227.2" fill="none" stroke="#dcffe8" stroke-width="1.2"/>
<text transform="translate(736.02,243.90) scale(0.9715,1)" font-family="'DejaVu Serif','Liberation Serif',serif" font-size="18.08" font-weight="bold" font-style="normal" fill="#111" stroke="#111" stroke-width="1.0">ΠΑΣΟΚ</text>
<g fill="#dc1414">
<rect x="759.8" y="291.8" width="14.8" height="2.5"/><rect x="788.6" y="291.8" width="14.8" height="2.5"/>
<rect x="759.8" y="317.2" width="43.6" height="2.6"/>
</g>
<text transform="translate(759.55,313.70) scale(0.9275,1)" font-family="'Liberation Sans',sans-serif" font-size="22.32" font-weight="bold" font-style="normal" fill="#dc1414" stroke="#dc1414" stroke-width="2.0" stroke-linejoin="miter">ΚΚΕ</text>
<g fill="none" stroke="#b02626" stroke-linecap="round"><path d="M780.5,282.3 Q786.3,283.4 787.1,288 Q787.3,290.6 786,292.5" stroke-width="1.4" stroke="#9a3030"/><path d="M782.6,288.4 L786.2,292.8" stroke-width="1.5"/><path d="M776.4,293.5 L780,292" stroke-width="1.6"/><polygon points="778,287.4 782.8,285.8 784,288.8 779.2,290.4" fill="#c02222" stroke="#c02222" stroke-width="0.8"/></g>
<text transform="translate(714.87,314.65) scale(1.2713,1)" font-family="'DejaVu Sans','Liberation Sans',sans-serif" font-size="24.39" font-weight="bold" font-style="normal" fill="#8c1a14"  letter-spacing="-3.17">22</text>
<rect x="762.3" y="338.8" width="52.2" height="48.8" fill="#e6f1fa"/>
<circle cx="788.1" cy="356.7" r="15.9" fill="#eef6fb" stroke="#6a9fc6" stroke-width="2.1"/>
<circle cx="788.1" cy="356.7" r="13.0" fill="#8ec6ea"/>
<circle cx="788.1" cy="356.7" r="3.6" fill="#ead46a"/>
<polygon points="794.7,345.1 789.3,357.4 786.9,356.0" fill="#d23434"/>
<polygon points="781.6,368.3 786.9,356.0 789.3,357.4" fill="#1c2a5c"/>
<text transform="translate(765.24,380.50) scale(1.2373,1)" font-family="'Liberation Serif',serif" font-size="6.62" font-weight="bold" font-style="normal" fill="#2c3c5e" stroke="#2c3c5e" stroke-width="0.35">ΕΛΛΗΝΙΚΗ</text>
<text transform="translate(776.52,386.80) scale(1.2329,1)" font-family="'Liberation Serif',serif" font-size="6.77" font-weight="bold" font-style="normal" fill="#2c3c5e" stroke="#2c3c5e" stroke-width="0.35">ΛΥΣΗ</text>
<text transform="translate(714.34,371.41) scale(1.2309,1)" font-family="'DejaVu Sans','Liberation Sans',sans-serif" font-size="24.05" font-weight="bold" font-style="normal" fill="#6a3c70"  letter-spacing="-1.44">15</text>
<text transform="translate(763.24,429.85) scale(1.0743,1)" font-family="'Liberation Sans',sans-serif" font-size="12.10" font-weight="bold" font-style="normal" fill="#111" >ΜέΡΑ</text>
<text transform="translate(797.32,429.95) scale(0.8399,1)" font-family="'Liberation Sans',sans-serif" font-size="9.07" font-weight="bold" font-style="normal" fill="#111" >25</text>
<path d="M806.9,409.8 C812.5,412.5 815.5,417 816.9,420.6 C815,426 811,429.5 807.8,431.2 C811.5,426.5 812.5,423 811.5,421 L800,420.2 L811,418.6 C811,415.5 809.5,412.5 806.9,409.8 Z" fill="#e8462a"/>
<text transform="translate(718.79,432.40) scale(1.2515,1)" font-family="'DejaVu Sans','Liberation Sans',sans-serif" font-size="24.04" font-weight="bold" font-style="normal" fill="#94b2ea"  letter-spacing="-1.68">11</text>
<rect x="724" y="482" width="51" height="6" fill="#fff"/>
<g fill="#2aa0b2">
<polygon points="749.6,452.6 749.6,468.7 758.2,468.7"/>
<polygon points="742.2,456.3 742.2,468.7 747.8,468.7"/><polygon points="741.9,452.6 741.9,456 743.8,456"/>
<polygon points="734.6,457.2 734.6,468.7 739.9,468.7"/><polygon points="734.4,452.8 734.4,456.5 736.4,456.5"/>
<polygon points="727.0,459.6 727.0,468.7 733.0,468.7"/>
</g>
<polygon points="727.2,469.8 758,469.0 735,475.0" fill="#942c94"/>
<text transform="translate(725.47,490.90) scale(1.0006,1)" font-family="'Liberation Sans',sans-serif" font-size="9.13" font-weight="normal" font-style="normal" fill="#b098b8" >Πλεύση</text>
<text transform="translate(726.08,500.00) scale(1.0620,1)" font-family="'Liberation Sans',sans-serif" font-size="8.41" font-weight="bold" font-style="normal" fill="#8c2a8c" stroke="#8c2a8c" stroke-width="0.25">Ελευθερίας</text>
<text transform="translate(281.03,291.55) scale(1.2151,1)" font-family="'DejaVu Sans','Liberation Sans',sans-serif" font-size="38.31" font-weight="bold" font-style="normal" fill="#fff" stroke="#1f65c8" stroke-width="15" stroke-linejoin="round" paint-order="stroke" letter-spacing="-3.83">121</text>
<defs><filter id="h86" x="-40%" y="-50%" width="180%" height="200%"><feGaussianBlur in="SourceAlpha" stdDeviation="5.5" result="a"/><feComponentTransfer in="a" result="t"><feFuncA type="linear" slope="14" intercept="-0.42"/></feComponentTransfer><feGaussianBlur in="t" stdDeviation="1.5" result="b"/><feFlood flood-color="#f59f1c" flood-opacity="0.8" result="c"/><feComposite in="c" in2="b" operator="in" result="h"/><feMerge><feMergeNode in="h"/><feMergeNode in="SourceGraphic"/></feMerge></filter></defs>
<defs><filter id="h35" x="-40%" y="-50%" width="180%" height="200%"><feGaussianBlur in="SourceAlpha" stdDeviation="5.5" result="a"/><feComponentTransfer in="a" result="t"><feFuncA type="linear" slope="14" intercept="-0.42"/></feComponentTransfer><feGaussianBlur in="t" stdDeviation="1.5" result="b"/><feFlood flood-color="#90cc72" flood-opacity="0.7" result="c"/><feComposite in="c" in2="b" operator="in" result="h"/><feMerge><feMergeNode in="h"/><feMergeNode in="SourceGraphic"/></feMerge></filter></defs>
<text transform="translate(444.95,224.77) scale(1.0485,1)" font-family="'DejaVu Sans','Liberation Sans',sans-serif" font-size="38.22" font-weight="bold" font-style="normal" fill="#000" filter="url(#h86)">86</text>
<text transform="translate(572.42,285.27) scale(1.1138,1)" font-family="'DejaVu Sans','Liberation Sans',sans-serif" font-size="37.57" font-weight="bold" font-style="normal" fill="#000" filter="url(#h35)">35</text>
<text transform="translate(594.77,458.41) scale(1.2030,1)" font-family="'DejaVu Sans','Liberation Sans',sans-serif" font-size="24.01" font-weight="bold" font-style="normal" fill="#be982c"  letter-spacing="-1.44">10</text>
<text transform="translate(423.16,360.45) scale(0.9885,1)" font-family="'Liberation Sans',sans-serif" font-size="20.07" font-weight="normal" font-style="normal" fill="#000" stroke="#000" stroke-width="0.55">Σύνολο</text>
<text transform="translate(424.24,387.85) scale(1.0128,1)" font-family="'Liberation Sans',sans-serif" font-size="20.21" font-weight="normal" font-style="normal" fill="#000" stroke="#000" stroke-width="0.55">εδρών:</text>
<text transform="translate(436.45,416.04) scale(1.0851,1)" font-family="'Liberation Sans',sans-serif" font-size="20.63" font-weight="normal" font-style="normal" fill="#000" stroke="#000" stroke-width="0.55">300</text>
<text transform="translate(54.96,493.50) scale(0.9467,1)" font-family="'Liberation Sans',sans-serif" font-size="11.30" font-weight="normal" font-style="normal" fill="#1c1c1c" stroke="#1c1c1c" stroke-width="0.15">Σημείωση1: Η εκτίμηση εδρών θα έρθει μόνο για τα κόμματα που θα μπουν</text>
<text transform="translate(55.07,505.77) scale(0.9468,1)" font-family="'Liberation Sans',sans-serif" font-size="11.30" font-weight="normal" font-style="normal" fill="#1c1c1c" stroke="#1c1c1c" stroke-width="0.15">στη βουλή, επομένως αν κάποιο κόμμα στην εκτίμηση έχει κάτω από</text>
<text transform="translate(55.06,518.04) scale(0.9636,1)" font-family="'Liberation Sans',sans-serif" font-size="11.30" font-weight="normal" font-style="normal" fill="#1c1c1c" stroke="#1c1c1c" stroke-width="0.15">3 οι έδρες θα έρθουν με 0</text>
<text transform="translate(54.96,530.31) scale(0.9626,1)" font-family="'Liberation Sans',sans-serif" font-size="11.30" font-weight="normal" font-style="normal" fill="#1c1c1c" stroke="#1c1c1c" stroke-width="0.15">Σημείωση2: Το ΆΛΛΟ μπορεί να μην εμφανιστεί καθόλου</text>
<text transform="translate(54.97,542.58) scale(0.9446,1)" font-family="'Liberation Sans',sans-serif" font-size="11.30" font-weight="normal" font-style="normal" fill="#1c1c1c" stroke="#1c1c1c" stroke-width="0.15">Σημείωση3: Το ?? αφορά κάποιο άλλο κόμμα που μπορεί να εμφανίσει</text>
<text transform="translate(55.17,554.85) scale(0.9730,1)" font-family="'Liberation Sans',sans-serif" font-size="11.30" font-weight="normal" font-style="normal" fill="#1c1c1c" stroke="#1c1c1c" stroke-width="0.15">ένα αξιοσημείωτο ποσοστό</text>
<text transform="translate(74.52,465.45) scale(0.9595,1)" font-family="'Liberation Sans',sans-serif" font-size="64.17" font-weight="bold" font-style="italic" fill="#198bbf" stroke="#198bbf" stroke-width="1.8" stroke-linejoin="miter">in</text>
<rect x="80" y="411" width="20" height="17.5" fill="#fff"/>
<circle cx="88.3" cy="420.2" r="5.4" fill="#bf1030"/>
</svg>
</body></html>
